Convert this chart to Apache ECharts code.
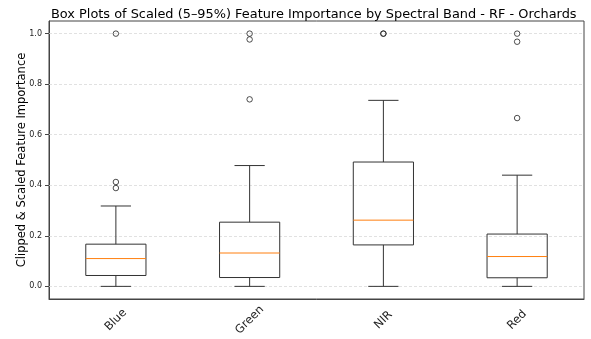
<!DOCTYPE html>
<html>
<head>
<meta charset="utf-8">
<script src="https://cdn.jsdelivr.net/npm/echarts@6/dist/echarts.min.js"></script>
<style>
  html, body { margin: 0; padding: 0; background: #fff; }
  #chart { width: 591px; height: 339px; }
</style>
</head>
<body>
<div id="chart"></div>
<script>
// data
var categories = ['Blue', 'Green', 'NIR', 'Red'];
var whiskerLow = [0.0, 0.0, 0.0, 0.0];
var q1 = [0.043, 0.035, 0.164, 0.034];
var median = [0.110, 0.132, 0.262, 0.118];
var q3 = [0.167, 0.254, 0.492, 0.207];
var whiskerHigh = [0.318, 0.478, 0.736, 0.440];
var outliers = [
  [0, 1.0], [0, 0.413], [0, 0.389],
  [1, 1.0], [1, 0.977], [1, 0.740],
  [2, 1.0], [2, 1.0],
  [3, 1.0], [3, 0.968], [3, 0.666]
];
var yTicks = [0.0, 0.2, 0.4, 0.6, 0.8, 1.0];

var boxData = categories.map(function (c, i) {
  return [i, whiskerLow[i], q1[i], median[i], q3[i], whiskerHigh[i]];
});

function renderBox(params, api) {
  var x = api.value(0);
  var band = api.size([1, 0])[0];
  var half = band * 0.225;
  var cap = band * 0.113;
  var pLow = api.coord([x, api.value(1)]);
  var pQ1 = api.coord([x, api.value(2)]);
  var pMed = api.coord([x, api.value(3)]);
  var pQ3 = api.coord([x, api.value(4)]);
  var pHigh = api.coord([x, api.value(5)]);
  var cx = pLow[0];
  var line = { stroke: '#333', lineWidth: 1 };
  return {
    type: 'group',
    children: [
      { type: 'line', shape: { x1: cx, y1: pLow[1], x2: cx, y2: pQ1[1] }, style: line },
      { type: 'line', shape: { x1: cx, y1: pQ3[1], x2: cx, y2: pHigh[1] }, style: line },
      { type: 'line', shape: { x1: cx - cap, y1: pLow[1], x2: cx + cap, y2: pLow[1] }, style: line },
      { type: 'line', shape: { x1: cx - cap, y1: pHigh[1], x2: cx + cap, y2: pHigh[1] }, style: line },
      { type: 'rect', shape: { x: cx - half, y: pQ3[1], width: half * 2, height: pQ1[1] - pQ3[1] },
        style: { fill: 'none', stroke: '#333', lineWidth: 1 } },
      { type: 'line', shape: { x1: cx - half, y1: pMed[1], x2: cx + half, y2: pMed[1] },
        style: { stroke: '#ff7f0e', lineWidth: 1 } }
    ]
  };
}

var chart = echarts.init(document.getElementById('chart'));
var option = {
  animation: false,
  title: {
    text: 'Box Plots of Scaled (5\u201395%) Feature Importance by Spectral Band - RF - Orchards',
    left: 46, top: 3,
    textStyle: { fontFamily: 'DejaVu Sans', fontSize: 12.9, fontWeight: 'normal', color: '#000' }
  },
  grid: {
    left: 49, right: 7, top: 21, bottom: 40,
    show: true, borderColor: '#444', borderWidth: 1, backgroundColor: '#fff'
  },
  xAxis: {
    type: 'category',
    data: categories,
    axisLine: { onZero: false, lineStyle: { color: '#444' } },
    axisTick: { alignWithLabel: true, length: 4, lineStyle: { color: '#444' } },
    axisLabel: {
      rotate: 45, align: 'center', verticalAlign: 'middle', margin: 21,
      fontFamily: 'DejaVu Sans', fontSize: 11.5, color: '#222'
    },
    splitLine: { show: false }
  },
  yAxis: {
    type: 'value',
    min: -0.05, max: 1.05,
    name: 'Clipped & Scaled Feature Importance',
    nameLocation: 'middle', nameGap: 21, nameMoveOverlap: false,
    nameTextStyle: { fontFamily: 'DejaVu Sans', fontSize: 11.5, color: '#000' },
    axisLine: { show: true, lineStyle: { color: '#444' } },
    axisTick: { show: true, length: 4, customValues: yTicks, lineStyle: { color: '#444' } },
    axisLabel: {
      customValues: yTicks, margin: 7,
      fontFamily: 'DejaVu Sans', fontSize: 8, color: '#222',
      formatter: function (v) { return v.toFixed(1); }
    },
    splitLine: { show: false }
  },
  series: [
    {
      type: 'custom',
      renderItem: renderBox,
      data: boxData,
      encode: { x: 0, y: [1, 2, 3, 4, 5] },
      z: 3
    },
    {
      type: 'scatter',
      data: outliers,
      symbol: 'circle',
      symbolSize: 5.5,
      itemStyle: { color: 'none', borderColor: '#222', borderWidth: 1 },
      z: 4,
      markLine: {
        silent: true,
        symbol: 'none',
        label: { show: false },
        lineStyle: { type: [3, 2], color: '#d9d9d9', width: 0.8 },
        data: yTicks.map(function (v) { return { yAxis: v }; }),
        z: 1
      }
    }
  ]
};
chart.setOption(option);
</script>
</body>
</html>
